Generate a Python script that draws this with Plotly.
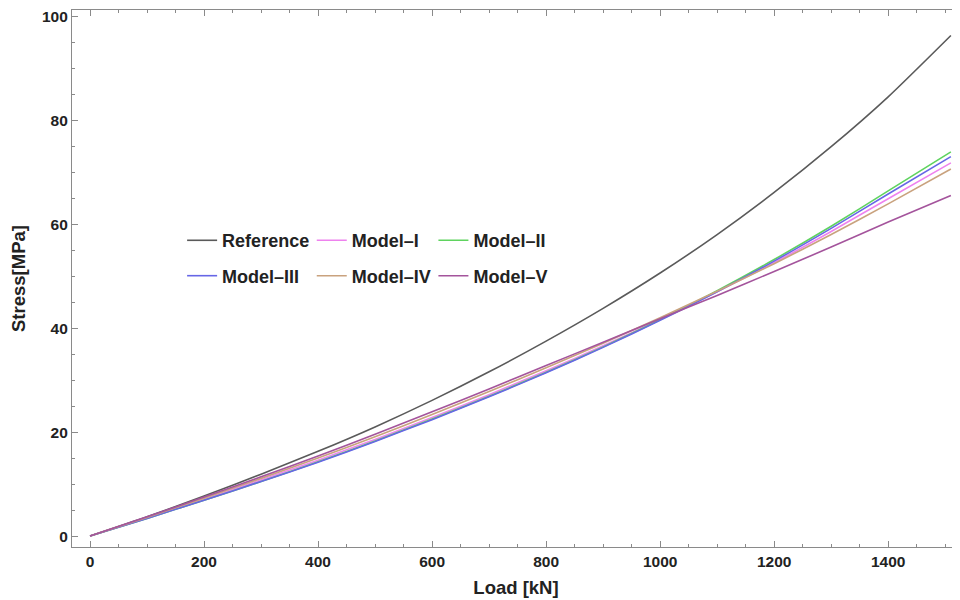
import plotly.graph_objects as go

load_kn = [0, 100, 200, 300, 400, 500, 600, 700, 800, 900, 1000, 1100, 1200, 1300, 1400, 1510]

reference = [0, 3.7, 7.7, 11.9, 16.3, 21.0, 26.1, 31.6, 37.5, 43.8, 50.6, 58.0, 66.1, 74.9, 84.5, 96.3]
model_i   = [0, 3.5, 7.1, 10.8, 14.6, 18.6, 22.8, 27.2, 31.8, 36.6, 41.7, 47.0, 52.6, 58.6, 64.9, 71.8]
model_ii  = [0, 3.4, 6.9, 10.5, 14.3, 18.3, 22.5, 26.9, 31.5, 36.4, 41.6, 47.2, 53.2, 59.6, 66.4, 73.9]
model_iii = [0, 3.4, 6.9, 10.5, 14.2, 18.2, 22.4, 26.8, 31.4, 36.3, 41.5, 47.0, 52.9, 59.2, 65.8, 73.0]
model_iv  = [0, 3.6, 7.3, 11.1, 15.0, 19.1, 23.4, 27.8, 32.4, 37.1, 42.0, 47.1, 52.4, 58.0, 63.9, 70.6]
model_v   = [0, 3.7, 7.5, 11.4, 15.4, 19.6, 23.9, 28.3, 32.8, 37.3, 41.8, 46.3, 50.9, 55.6, 60.4, 65.5]

series_names = ["Reference", "Model\u2013I", "Model\u2013II", "Model\u2013III", "Model\u2013IV", "Model\u2013V"]
series_values = [reference, model_i, model_ii, model_iii, model_iv, model_v]
series_colors = ["#5a5a5a", "#ee82ee", "#5fd35f", "#6666e6", "#c9a27e", "#a4549c"]
legend_cols = ["legend", "legend2", "legend3", "legend", "legend2", "legend3"]

FONT = "Liberation Sans, Arial, sans-serif"

fig = go.Figure()
for name, vals, col, lg in zip(series_names, series_values, series_colors, legend_cols):
    fig.add_trace(go.Scatter(x=load_kn, y=vals, mode="lines", name=name, legend=lg, legendgroup=name,
                             line=dict(color=col, width=1.6, shape="spline", smoothing=0.6)))

axis_common = dict(
    showgrid=False, zeroline=False, showline=True, linecolor="#8a8a8a", linewidth=1.2,
    mirror="ticks", ticks="inside", ticklen=6, tickwidth=1, tickcolor="#8a8a8a",
    tickfont=dict(family=FONT, size=15.5, color="#222", weight="bold"),
    ticklabeloverflow="allow",
    automargin=False,
)

fig.update_xaxes(range=[-31.6, 1526], tickvals=[0, 200, 400, 600, 800, 1000, 1200, 1400],
                 minor=dict(dtick=50, tick0=0, ticks="inside", ticklen=3, tickcolor="#8a8a8a"),
                 title=dict(text="Load [kN]", standoff=12,
                            font=dict(family=FONT, size=18.5, color="#222", weight="bold")),
                 **axis_common)
fig.update_yaxes(range=[-2.1, 101.2], tickvals=[0, 20, 40, 60, 80, 100],
                 minor=dict(dtick=5, tick0=0, ticks="inside", ticklen=3, tickcolor="#8a8a8a"),
                 title=dict(text="Stress[MPa]", standoff=27,
                            font=dict(family=FONT, size=18.5, color="#222", weight="bold")),
                 **axis_common)

legend_common = dict(orientation="v", xanchor="left", yanchor="middle", y=0.538,
                     itemwidth=30, tracegroupgap=9,
                     font=dict(family=FONT, size=18, color="#222", weight="bold"),
                     bgcolor="rgba(0,0,0,0)")

# page body has an 8px offset in the browser, so the figure is sized to the visible area
fig.update_layout(
    width=952, height=592,
    margin=dict(l=64, r=0, t=2, b=53),
    paper_bgcolor="white", plot_bgcolor="white",
    font=dict(family=FONT),
    showlegend=True,
    legend=dict(x=0.124, **legend_common),
    legend2=dict(x=0.270, **legend_common),
    legend3=dict(x=0.407, **legend_common),
)

fig.write_html("out.html")
